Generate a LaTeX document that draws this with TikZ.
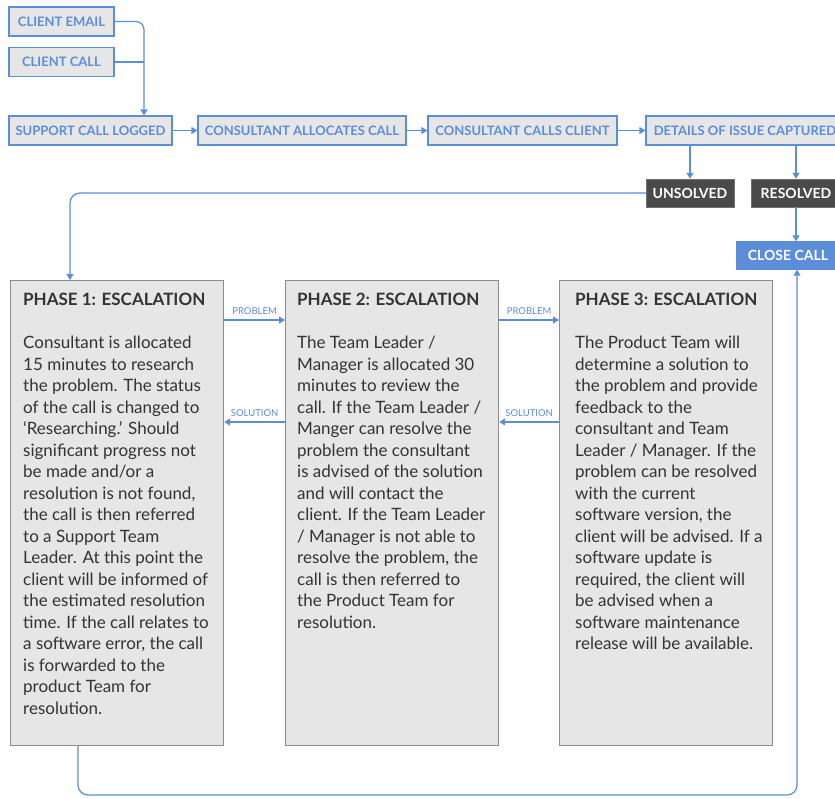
\documentclass[tikz,border=0pt]{standalone}
\usepackage{fontspec}
\setmainfont{Lato}
\usepackage{tikz}
\usetikzlibrary{positioning}
\usetikzlibrary{arrows.meta}
\definecolor{lineblue}{HTML}{5B8DD9}
\definecolor{boxgray}{HTML}{E6E6E6}
\definecolor{darkbox}{HTML}{4A4A4A}
\definecolor{textgray}{HTML}{333333}
\definecolor{edgegray}{HTML}{8C8C8C}
\tikzstyle{stepbox}=[draw=lineblue, line width=1.2pt, fill=boxgray, text=lineblue,
    font=\bfseries\fontsize{13}{15}\selectfont, minimum height=29pt, inner sep=0pt]
\tikzstyle{outcome}=[fill=darkbox, draw=darkbox!80, text=white,
    font=\bfseries\fontsize{14}{16}\selectfont, minimum height=28pt, inner sep=0pt]
\tikzstyle{closebox}=[outcome, fill=lineblue, draw=lineblue]
\tikzstyle{phasebox}=[draw=edgegray, line width=1.2pt, fill=boxgray, anchor=north west,
    minimum width=213pt, minimum height=465pt, inner sep=0pt]
\tikzstyle{phasetitle}=[anchor=north west, inner sep=0pt, text=textgray,
    font=\bfseries\fontsize{17}{20}\selectfont]
\tikzstyle{phasebody}=[anchor=north west, inner sep=0pt, text=textgray, align=left,
    font=\fontsize{17}{21.5}\selectfont]
\tikzstyle{flow}=[draw=lineblue, line width=1.2pt, -{Triangle[length=6pt,width=7pt]}]
\tikzstyle{feedline}=[draw=lineblue, line width=1.2pt]
\tikzstyle{tag}=[text=lineblue, font=\fontsize{9.5}{10}\selectfont, inner sep=0pt]

\begin{document}
\begin{tikzpicture}[x=1pt, y=-1pt]
  \useasboundingbox (0,0) rectangle (835,798);
  % intake boxes
  \node[stepbox, minimum width=105pt] (email) at (61.5,21.5) {CLIENT EMAIL};
  \node[stepbox, minimum width=105pt] (call) at (61.5,62) {CLIENT CALL};
  \node[stepbox, minimum width=163pt] (logged) at (90.5,130.5) {SUPPORT CALL LOGGED};
  \node[stepbox, minimum width=208pt] (allocates) at (302,130.5) {CONSULTANT ALLOCATES CALL};
  \node[stepbox, minimum width=189pt] (calls) at (522.5,130.5) {CONSULTANT CALLS CLIENT};
  \node[stepbox, minimum width=198pt] (details) at (745,130.5) {DETAILS OF ISSUE CAPTURED};
  \node[outcome, minimum width=88pt] (unsolved) at (690,193) {UNSOLVED};
  \node[outcome, minimum width=90pt] (resolved) at (796,193) {RESOLVED};
  \node[closebox, minimum width=104pt] (close) at (788,255.5) {CLOSE CALL};
  \coordinate (merge) at (144,21.5);
  \coordinate (turn) at (70,193);
  \coordinate (loopa) at (78,795);
  \coordinate (loopb) at (797,795);
  % escalation phases
  \node[phasebox] (phase1) at (10,280) {};
  \node[phasebox] (phase2) at (285,280) {};
  \node[phasebox] (phase3) at (559,280) {};
  \node[phasetitle] (title1) at ([shift={(13pt,-13pt)}]phase1.north west) {PHASE 1: ESCALATION};
  \node[phasetitle] (title2) at ([shift={(12pt,-13pt)}]phase2.north west) {PHASE 2: ESCALATION};
  \node[phasetitle] (title3) at ([shift={(16pt,-13pt)}]phase3.north west) {PHASE 3: ESCALATION};
  \node[phasebody] (body1) at ([shift={(13pt,-56pt)}]phase1.north west) {Consultant is allocated\\
    15 minutes to research\\the problem. The status\\of the call is changed to\\
    ‘Researching.’ Should\\significant progress not\\be made and/or a\\
    resolution is not found,\\the call is then referred\\to a Support Team\\
    Leader. At this point the\\client will be informed of\\the estimated resolution\\
    time. If the call relates to\\a software error, the call\\is forwarded to the\\
    product Team for\\resolution.};
  \node[phasebody] (body2) at ([shift={(12pt,-56pt)}]phase2.north west) {The Team Leader /\\
    Manager is allocated 30\\minutes to review the\\call. If the Team Leader /\\
    Manger can resolve the\\problem the consultant\\is advised of the solution\\
    and will contact the\\client. If the Team Leader\\/ Manager is not able to\\
    resolve the problem, the\\call is then referred to\\the Product Team for\\resolution.};
  \node[phasebody] (body3) at ([shift={(16pt,-56pt)}]phase3.north west) {The Product Team will\\
    determine a solution to\\the problem and provide\\feedback to the\\
    consultant and Team\\Leader / Manager. If the\\problem can be resolved\\
    with the current\\software version, the\\client will be advised. If a\\
    software update is\\required, the client will\\be advised when a\\
    software maintenance\\release will be available.};
  % connectors
  \draw[feedline] (call.east) -- (call.east -| merge);
  \draw[flow, rounded corners=8pt] (email.east) -- (merge) -- (merge |- logged.north);
  \draw[flow] (logged) -- (allocates);
  \draw[flow] (allocates) -- (calls);
  \draw[flow] (calls) -- (details);
  \draw[flow] (details.south -| unsolved) -- (unsolved.north);
  \draw[flow] (details.south -| resolved) -- (resolved.north);
  \draw[flow] (resolved.south) -- (resolved.south |- close.north);
  \draw[flow, rounded corners=10pt] (unsolved.west) -- (turn) -- (turn |- phase1.north);
  \draw[flow] ([yshift=-40pt]phase1.north east) -- ([yshift=-40pt]phase2.north west)
    node[tag, midway, above=5pt] (prob1) {PROBLEM};
  \draw[flow] ([yshift=-40pt]phase2.north east) -- ([yshift=-40pt]phase3.north west)
    node[tag, midway, above=5pt] (prob2) {PROBLEM};
  \draw[flow] ([yshift=-142pt]phase2.north west) -- ([yshift=-142pt]phase1.north east)
    node[tag, midway, above=5pt] (sol1) {SOLUTION};
  \draw[flow] ([yshift=-142pt]phase3.north west) -- ([yshift=-142pt]phase2.north east)
    node[tag, midway, above=5pt] (sol2) {SOLUTION};
  \draw[flow, rounded corners=10pt] (phase1.south -| loopa) -- (loopa) -- (loopb) -- (loopb |- close.south);
\end{tikzpicture}
\end{document}
